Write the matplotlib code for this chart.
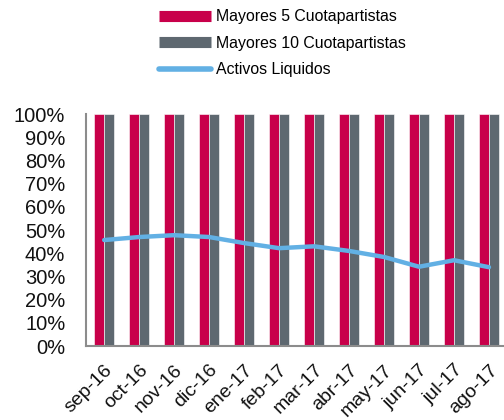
import numpy as np
import matplotlib.pyplot as plt
from matplotlib.lines import Line2D
from matplotlib.ticker import PercentFormatter

# data
meses = ['sep-16', 'oct-16', 'nov-16', 'dic-16', 'ene-17', 'feb-17',
         'mar-17', 'abr-17', 'may-17', 'jun-17', 'jul-17', 'ago-17']
mayores_5 = [100, 100, 100, 100, 100, 100, 100, 100, 100, 100, 100, 100]
mayores_10 = [100, 100, 100, 100, 100, 100, 100, 100, 100, 100, 100, 100]
activos_liquidos = [45.7, 47.0, 47.8, 47.0, 44.4, 42.2, 43.0, 41.0, 38.4, 34.2, 37.0, 34.0]

rojo = '#C8004A'
gris = '#5E6870'
azul = '#62B0E4'

plt.rcParams['font.family'] = ['Liberation Sans', 'DejaVu Sans']

fig = plt.figure(figsize=(5.04, 4.2), dpi=100)
ax = fig.add_axes([0.171, 0.176, 0.827, 0.5524])

x = np.arange(len(meses))
w = 0.286
ax.bar(x - w/2, mayores_5, width=w, color=rojo, edgecolor='white', linewidth=0.4)
ax.bar(x + w/2, mayores_10, width=w, color=gris, edgecolor='white', linewidth=0.4)
ax.plot(x, activos_liquidos, color=azul, linewidth=3.2, solid_capstyle='round',
        solid_joinstyle='round')

ax.set_xlim(-0.514, 11.4)
ax.set_ylim(0, 100)
ax.set_yticks(np.arange(0, 101, 10))
ax.yaxis.set_major_formatter(PercentFormatter(decimals=0))
ax.set_xticks(x)
ax.set_xticklabels(meses, rotation=45, ha='right', va='top', rotation_mode='anchor')
ax.tick_params(axis='both', length=0, colors='#111111')
ax.tick_params(axis='x', pad=11, labelsize=14)
ax.tick_params(axis='y', pad=15, labelsize=14.5)

for s in ['top', 'right']:
    ax.spines[s].set_visible(False)
for s in ['left', 'bottom']:
    ax.spines[s].set_color('#8C8C8C')
    ax.spines[s].set_linewidth(1.5)

handles = [Line2D([], [], color=rojo, linewidth=8, solid_capstyle='butt'),
           Line2D([], [], color=gris, linewidth=8, solid_capstyle='butt'),
           Line2D([], [], color=azul, linewidth=4, solid_capstyle='round')]
labels = ['Mayores 5 Cuotapartistas', 'Mayores 10 Cuotapartistas', 'Activos Liquidos']
fig.legend(handles, labels, loc='upper left', bbox_to_anchor=(0.302, 0.993),
           frameon=False, fontsize=11.4, handlelength=3.3, handletextpad=0.3,
           labelspacing=0.72, borderaxespad=0)

fig.savefig('out.png', dpi=100)
